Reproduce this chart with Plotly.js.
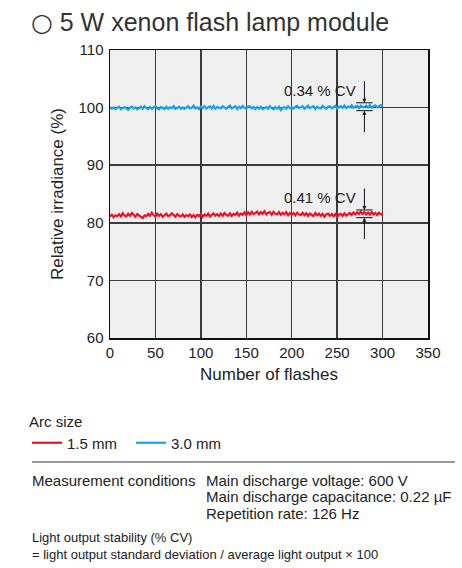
<!DOCTYPE html>
<html>
<head>
<meta charset="utf-8">
<script src="https://cdn.plot.ly/plotly-3.0.1.min.js"></script>
<style>
  html, body { margin: 0; padding: 0; background: #fff; }
  #chart { width: 462px; height: 568px; }
</style>
</head>
<body>
<div id="chart"></div>
<script>
// Relative irradiance of a 5 W xenon flash lamp module, sampled every 2 flashes (0 to 300)
const flashStep = 2;

// Arc size 3.0 mm
const arc30 = [
  100.1, 99.8, 100.0, 99.75, 99.95, 100.15, 99.7, 99.9, 100.1, 99.8, 99.6, 99.95, 100.2, 99.85, 100.05, 99.7, 99.9, 100.15, 99.8, 100.25, 99.9,
  99.75, 100.1, 99.8, 100.0, 100.3, 99.85, 99.7, 100.1, 99.9, 99.75, 100.15, 99.8, 100.05, 99.9, 100.25, 99.75, 99.95, 100.15, 99.8, 100.05,
  99.8, 100.1, 100.25, 99.85, 99.95, 100.35, 99.85, 100.05, 99.75, 100.2, 99.9, 100.25, 99.8, 100.05, 100.2, 99.85, 100.3, 99.8, 100.1, 100.0,
  99.85, 100.25, 99.95, 99.8, 100.15, 100.35, 99.85, 100.05, 100.25, 99.75, 100.15, 99.9, 100.3, 99.95, 99.8, 100.2, 100.25, 99.85, 100.1, 99.75,
  100.1, 99.8, 100.15, 99.7, 99.95, 100.1, 99.8, 100.25, 99.9, 99.7, 100.1, 99.8, 100.15, 99.55, 99.9, 100.1, 99.8, 100.25, 99.9, 100.05,
  99.8, 100.15, 100.3, 99.9, 100.05, 100.25, 99.8, 100.15, 100.35, 99.9, 100.05, 100.25, 99.75, 100.15, 99.95, 99.85, 100.3, 100.0, 99.8, 100.15,
  100.25, 99.85, 100.05, 100.3, 99.85, 100.15, 100.25, 99.95, 100.35, 99.9, 100.2, 100.05, 100.4, 99.95, 100.2, 100.3, 99.9, 100.35, 100.1, 100.15,
  100.35, 100.05, 100.45, 100.0, 100.25, 100.4, 100.05, 100.3, 100.45, 100.2
];

// Arc size 1.5 mm
const arc15 = [
  81.1, 81.4, 80.95, 81.3, 81.15, 81.5, 81.1, 81.65, 81.25, 81.1, 81.55, 81.2, 81.7, 81.35, 81.05, 81.5, 81.25, 81.0, 80.8, 81.3, 81.15,
  81.55, 81.2, 81.75, 81.3, 81.1, 81.6, 81.2, 81.5, 81.05, 81.4, 81.6, 81.15, 81.3, 81.65, 81.3, 81.05, 81.5, 81.2, 81.1, 81.45,
  81.05, 81.35, 81.15, 81.45, 81.0, 81.35, 80.95, 81.4, 81.15, 81.55, 81.05, 81.45, 81.2, 81.6, 81.1, 81.35, 81.65, 81.25, 81.5, 81.2,
  81.6, 81.2, 81.7, 81.35, 81.25, 81.65, 81.2, 81.55, 81.35, 81.75, 81.25, 81.6, 81.4, 81.8, 81.3, 81.8, 81.45, 81.9, 81.5, 81.7,
  81.95, 81.45, 81.85, 81.55, 82.0, 81.45, 81.75, 81.85, 81.4, 81.9, 81.55, 81.45, 81.85, 81.4, 81.75, 81.45, 81.85, 81.3, 81.7, 81.4,
  81.7, 81.3, 81.75, 81.45, 81.35, 81.75, 81.3, 81.65, 81.2, 81.6, 81.4, 81.15, 81.7, 81.3, 81.6, 81.2, 81.55, 81.05, 81.45, 81.6,
  81.2, 81.55, 81.15, 81.5, 81.0, 81.4, 81.55, 81.2, 81.65, 81.25, 81.5, 81.7, 81.35, 81.8, 81.45, 81.8, 81.5, 81.95, 81.55, 81.85,
  81.45, 81.8, 81.4, 81.85, 81.45, 81.7, 81.35, 81.75, 81.5, 81.4
];

// Stability markers: coefficient of variation (%) and the level it is marked at
const cvValues = [0.34, 0.41];
const cvLevels = [100.15, 81.56];
const cvFlash = 280;

const seriesNames = ['1.5 mm', '3.0 mm'];
const xTicks = [0, 50, 100, 150, 200, 250, 300, 350];
const yTicks = [60, 70, 80, 90, 100, 110];

const conditions = [
  'Main discharge voltage: 600 V',
  'Main discharge capacitance: 0.22 µF',
  'Repetition rate: 126 Hz'
];

const RED = '#e8132b';
const BLUE = '#1ba3e6';
const FONT = 'Liberation Sans, Arial, Helvetica, sans-serif';
const INK = '#222';

// figure geometry (pixels)
const W = 462, H = 568;
const M = { l: 110, r: 34, t: 50, b: 230 };
const PW = W - M.l - M.r, PH = H - M.t - M.b;
const px = x => (x - M.l) / PW;          // page x -> paper x
const py = y => (H - M.b - y) / PH;      // page y -> paper y

const flashes = arc30.map((_, i) => i * flashStep);

const traces = [
  { x: flashes, y: arc15, name: seriesNames[0], type: 'scatter', mode: 'lines',
    line: { color: RED, width: 2.2 } },
  { x: flashes, y: arc30, name: seriesNames[1], type: 'scatter', mode: 'lines',
    line: { color: BLUE, width: 2.2 } }
];

const shapes = [];
const annotations = [];

// ±2σ brackets with arrows pointing in, labelled with the CV
cvValues.forEach((cv, i) => {
  const level = cvLevels[i];
  const half = 2 * cv * level / 100;
  const top = level + half, bot = level - half;
  [top, bot].forEach(v => shapes.push({
    type: 'line', xref: 'x', yref: 'y', x0: cvFlash - 9, x1: cvFlash + 9, y0: v, y1: v,
    line: { color: '#111', width: 1 }
  }));
  annotations.push({ x: cvFlash, y: top, ax: cvFlash, ay: top + 4, xref: 'x', yref: 'y',
    axref: 'x', ayref: 'y', text: '', showarrow: true, arrowhead: 2, arrowsize: 0.8,
    arrowwidth: 1, arrowcolor: '#111', standoff: 0 });
  annotations.push({ x: cvFlash, y: bot, ax: cvFlash, ay: bot - 4, xref: 'x', yref: 'y',
    axref: 'x', ayref: 'y', text: '', showarrow: true, arrowhead: 2, arrowsize: 0.8,
    arrowwidth: 1, arrowcolor: '#111', standoff: 0 });
  annotations.push({ x: cvFlash - 7, y: level + 2.8, xref: 'x', yref: 'y',
    text: cv.toFixed(2) + ' % CV', showarrow: false, xanchor: 'right', yanchor: 'middle',
    font: { family: FONT, size: 15, color: INK } });
});

// footer: separator, measurement conditions and the CV definition
shapes.push({ type: 'line', xref: 'paper', yref: 'paper', x0: px(32), x1: px(455),
  y0: py(462), y1: py(462), line: { color: '#7a7a7a', width: 1.5 } });

const footFont = { family: FONT, size: 15, color: INK };
const noteFont = { family: FONT, size: 13, color: INK };
annotations.push({ xref: 'paper', yref: 'paper', x: px(30), y: py(480), text: 'Measurement conditions',
  showarrow: false, xanchor: 'left', yanchor: 'middle', font: footFont });
conditions.forEach((t, i) => annotations.push({ xref: 'paper', yref: 'paper', x: px(204), y: py(480 + i * 16.5),
  text: t, showarrow: false, xanchor: 'left', yanchor: 'middle', font: footFont }));
annotations.push({ xref: 'paper', yref: 'paper', x: px(30), y: py(537), text: 'Light output stability (% CV)',
  showarrow: false, xanchor: 'left', yanchor: 'middle', font: noteFont });
annotations.push({ xref: 'paper', yref: 'paper', x: px(30), y: py(554),
  text: '= light output standard deviation / average light output × 100',
  showarrow: false, xanchor: 'left', yanchor: 'middle', font: noteFont });

const axisCommon = {
  showline: true, mirror: true, linecolor: '#111', linewidth: 1.5,
  showgrid: true, gridcolor: '#3c3c3c', gridwidth: 1.5,
  zeroline: false, ticks: '', tickfont: { family: FONT, size: 15, color: INK },
  tickmode: 'array', fixedrange: true
};

const layout = {
  width: W, height: H,
  margin: M,
  paper_bgcolor: '#ffffff',
  plot_bgcolor: '#efefef',
  font: { family: FONT, color: INK },
  title: {
    text: '<span style="font-family:DejaVu Sans;font-size:25px">○</span> 5 W xenon flash lamp module',
    xref: 'container', yref: 'container', x: 31 / W, xanchor: 'left',
    y: 1 - 22 / H, yanchor: 'middle',
    font: { family: FONT, size: 25, color: '#333' }
  },
  xaxis: Object.assign({}, axisCommon, {
    range: [0, 350], tickvals: xTicks,
    title: { text: 'Number of flashes', font: { family: FONT, size: 17, color: INK }, standoff: 8 }
  }),
  yaxis: Object.assign({}, axisCommon, {
    range: [60, 110], tickvals: yTicks, ticklabelstandoff: 2,
    title: { text: 'Relative irradiance (%)', font: { family: FONT, size: 17, color: INK }, standoff: 10 }
  }),
  showlegend: true,
  legend: {
    orientation: 'h', x: px(27), xanchor: 'left', y: py(407), yanchor: 'top',
    title: { text: 'Arc size', side: 'top', font: { family: FONT, size: 15, color: INK } },
    font: { family: FONT, size: 15, color: INK },
    entrywidth: 59, entrywidthmode: 'pixels',
    bgcolor: 'rgba(0,0,0,0)', borderwidth: 0, tracegroupgap: 0
  },
  shapes: shapes,
  annotations: annotations
};

Plotly.newPlot('chart', traces, layout, { displayModeBar: false, staticPlot: true });
</script>
</body>
</html>
